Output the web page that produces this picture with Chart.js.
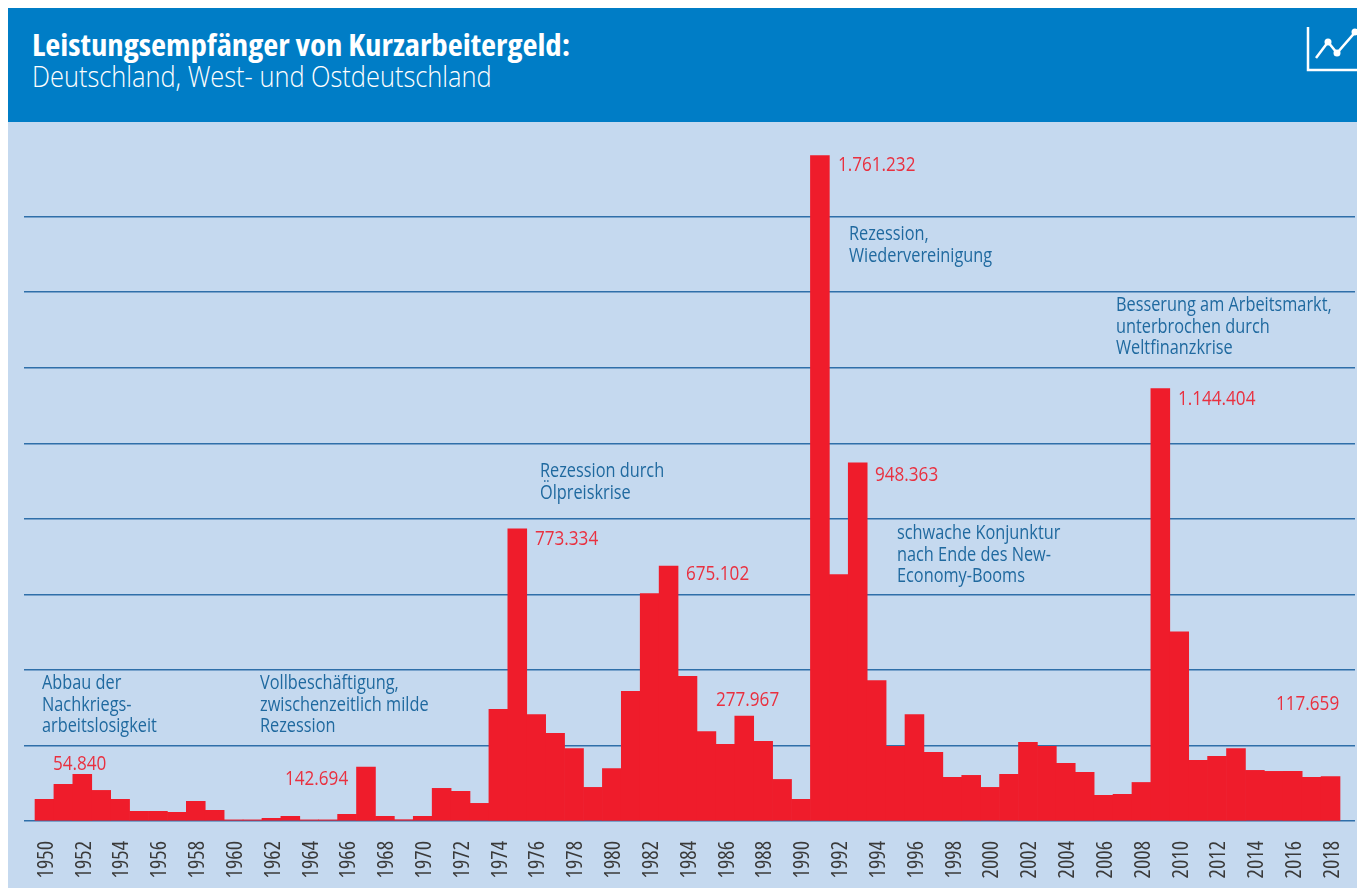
<!DOCTYPE html>
<html lang="de">
<head>
<meta charset="utf-8">
<title>Leistungsempfänger von Kurzarbeitergeld</title>
<script src="https://cdn.jsdelivr.net/npm/chart.js@4/dist/chart.umd.min.js"></script>
<style>
  html, body { margin: 0; padding: 0; background: #fff; overflow: hidden; }
  #header { position: absolute; left: 8px; top: 8px; width: 1349px; height: 114px; background: #007dc6; color: #fff; }
  #title, #subtitle { position: absolute; left: 24px; white-space: nowrap; font-family: "Open Sans", sans-serif; transform-origin: left center; }
  #title { top: 20px; font-size: 29.5px; line-height: 34px; font-weight: 700; font-stretch: condensed; transform: scaleX(1.111); }
  #subtitle { top: 51px; font-size: 29px; line-height: 34px; font-weight: 300; transform: scaleX(0.876); }
  #icon { position: absolute; left: 1298px; top: 17px; }
  #panel { position: absolute; left: 8px; top: 122px; width: 1349px; height: 766px; background: #c5d9ef; }
</style>
</head>
<body>
<div id="header">
  <div id="title">Leistungsempfänger von Kurzarbeitergeld:</div>
  <div id="subtitle">Deutschland, West- und Ostdeutschland</div>
  <svg id="icon" width="51" height="50" fill="none" stroke="#fff">
    <path d="M2 2V45H51" stroke-width="2.5"/>
    <path d="M10 33L22 17L31 28L51 5" stroke-width="2.5"/>
    <circle cx="22" cy="17" r="3.5" fill="#fff" stroke="none"/>
    <circle cx="31" cy="28" r="3.5" fill="#fff" stroke="none"/>
    <circle cx="49" cy="7" r="3.5" fill="#fff" stroke="none"/>
  </svg>
</div>
<div id="panel"><canvas id="chart" width="1349" height="766"></canvas></div>
<script>
const years = [];
for (let y = 1950; y <= 2018; y++) years.push(y);

const recipients = [
  57300, 97000, 123500, 81000, 57300, 25600, 25600, 23000, 52000, 28200,
  3000, 3000, 7000, 12300, 3000, 3000, 17600, 142694, 12300, 3500,
  12300, 86400, 78500, 46700, 295500, 773334, 282000, 232000, 192000, 89000,
  139000, 343000, 602000, 675102, 383000, 237000, 203000, 277967, 211000, 110000,
  57300, 1761232, 652000, 948363, 372000, 197500, 282000, 181700, 115500, 120800,
  89000, 123500, 208000, 197500, 152600, 128800, 68000, 70600, 102000, 1144404,
  501000, 160500, 171000, 192000, 134000, 131400, 131400, 115500, 117659
];
const yearTicks = years.filter(y => y % 2 === 0);
const gridValues = [0, 200000, 400000, 600000, 800000, 1000000, 1200000, 1400000, 1600000];

//Printed peak values, x/y are page coordinates of the left edge and text middle
const peakLabels = [
  { text: '54.840', x: 53, y: 763 },
  { text: '142.694', x: 285, y: 778 },
  { text: '773.334', x: 535, y: 538 },
  { text: '675.102', x: 686, y: 573 },
  { text: '277.967', x: 716, y: 699 },
  { text: '1.761.232', x: 838, y: 164 },
  { text: '948.363', x: 875, y: 474 },
  { text: '1.144.404', x: 1178, y: 398 },
  { text: '117.659', x: 1276, y: 703 },
];
//Explanations, one string per printed line
const notes = [
  { lines: ['Abbau der', 'Nachkriegs-', 'arbeitslosigkeit'], x: 42, y: 682 },
  { lines: ['Vollbeschäftigung,', 'zwischenzeitlich milde', 'Rezession'], x: 260, y: 682 },
  { lines: ['Rezession durch', 'Ölpreiskrise'], x: 540, y: 470 },
  { lines: ['Rezession,', 'Wiedervereinigung'], x: 849, y: 233 },
  { lines: ['schwache Konjunktur', 'nach Ende des New-', 'Economy-Booms'], x: 897, y: 532 },
  { lines: ['Besserung am Arbeitsmarkt,', 'unterbrochen durch', 'Weltfinanzkrise'], x: 1116, y: 304 },
];

const narrow = '"Open Sans", sans-serif';
const panelLeft = 8;
const panelTop = 122;

//Open Sans squeezed horizontally, no installed width sits between condensed and normal
function squeezedText(ctx, text, x, y, squeeze) {
  ctx.save();
  ctx.translate(x - panelLeft, y - panelTop);
  ctx.scale(squeeze, 1);
  ctx.fillText(text, 0, 0);
  ctx.restore();
}

//Draws the free text on top of the bars
const textPlugin = {
  id: 'chartText',
  afterDatasetsDraw(chart) {
    const ctx = chart.ctx;
    ctx.save();
    ctx.textBaseline = 'middle';
    ctx.textAlign = 'left';
    ctx.font = '400 20px ' + narrow;
    ctx.fillStyle = '#e9303f';
    peakLabels.forEach(l => squeezedText(ctx, l.text, l.x, l.y + 1, 0.855));
    ctx.fillStyle = '#1f699f';
    notes.forEach(n => {
      n.lines.forEach((line, i) => squeezedText(ctx, line, n.x, n.y + 1 + i * 21.8, 0.815));
    });
    ctx.restore();
  }
};

new Chart(document.getElementById('chart'), {
  type: 'bar',
  plugins: [textPlugin],
  data: {
    datasets: [{
      data: years.map((year, i) => ({ x: year, y: recipients[i] })),
      backgroundColor: '#ef1c2b',
      borderWidth: 0,
      barPercentage: 1,
      categoryPercentage: 1,
    }],
  },
  options: {
    responsive: false,
    animation: false,
    layout: { padding: { left: 16, right: 2, top: 19, bottom: 0 } },
    plugins: { legend: { display: false }, tooltip: { enabled: false } },
    scales: {
      x: {
        type: 'linear',
        offset: false,
        min: 1948.918,
        max: 2019.293,
        grid: { display: false, offset: false },
        border: { display: false },
        afterBuildTicks: scale => { scale.ticks = yearTicks.map(value => ({ value })); },
        afterFit: scale => {
          scale.height = 67;
          scale.paddingLeft = 0;
          scale.paddingRight = 0;
        },
        ticks: {
          autoSkip: false,
          minRotation: 90,
          maxRotation: 90,
          padding: 12,
          labelOffset: 2,
          color: '#3a3a3a',
          //weight goes into the font shorthand as is, so the width keyword can ride along
          font: { family: narrow, size: 22, weight: 'condensed 400' },
          callback: value => String(value),
        },
      },
      y: {
        min: 0,
        max: 1800000,
        afterBuildTicks: scale => { scale.ticks = gridValues.map(value => ({ value })); },
        afterFit: scale => { scale.width = 0; },
        grid: { color: '#2f6fa9', lineWidth: 1.4, drawTicks: false },
        border: { display: false },
        ticks: { display: false },
      },
    },
  },
});
</script>
</body>
</html>
